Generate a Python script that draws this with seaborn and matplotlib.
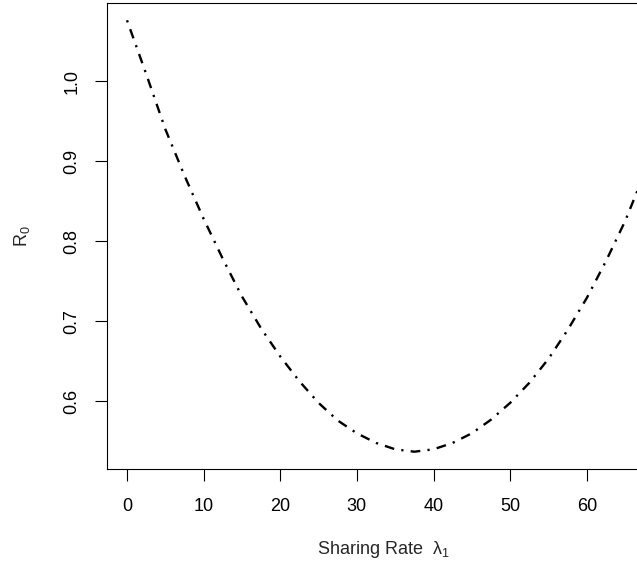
import matplotlib
matplotlib.use("Agg")
import matplotlib.pyplot as plt
import seaborn as sns
import pandas as pd

# Basic reproduction number as a function of the sharing rate
sharing_rate = [0, 2.5, 5, 7.5, 10, 12.5, 15, 17.5, 20, 22.5, 25, 27.5, 30, 32.5,
                35, 37.5, 40, 42.5, 45, 47.5, 50, 52.5, 55, 57.5, 60, 62.5, 65, 67.5]
r0_values = [1.076, 1.009, 0.940, 0.882, 0.828, 0.778, 0.731, 0.691, 0.656, 0.625,
             0.598, 0.576, 0.560, 0.548, 0.540, 0.537, 0.540, 0.548, 0.560, 0.577,
             0.598, 0.623, 0.653, 0.689, 0.729, 0.775, 0.825, 0.884]

x_ticks = [0, 10, 20, 30, 40, 50, 60]
y_ticks = [0.6, 0.7, 0.8, 0.9, 1.0]

df = pd.DataFrame({"rate": sharing_rate, "r0": r0_values})

sns.set_style("ticks")
plt.rcParams["font.family"] = ["Liberation Sans", "DejaVu Sans"]
plt.rcParams["mathtext.fontset"] = "custom"
plt.rcParams["mathtext.rm"] = "Liberation Sans"
plt.rcParams["mathtext.it"] = "Liberation Sans:italic"
plt.rcParams["lines.scale_dashes"] = False

W, H = 637, 567
fig = plt.figure(figsize=(W / 100, H / 100), dpi=100)
left_px, right_px, top_px, bottom_px = 107, 645, 3, 469
ax = fig.add_axes([left_px / W, 1 - bottom_px / H,
                   (right_px - left_px) / W, (bottom_px - top_px) / H])

sns.lineplot(data=df, x="rate", y="r0", ax=ax, color="black", linewidth=1.7,
             estimator=None, sort=False)
line = ax.lines[0]
line.set_dashes([1.6, 5.2, 7.0, 5.2])
line.set_dash_capstyle("butt")

ax.set_xlim(-2.61, 67.6)
ax.set_ylim(0.5154, 1.0976)
ax.set_xticks(x_ticks)
ax.set_yticks(y_ticks)
ax.set_xticklabels([str(v) for v in x_ticks])
ax.set_yticklabels([f"{v:.1f}" for v in y_ticks], rotation=90, va="center")

for side in ["left", "top", "bottom", "right"]:
    ax.spines[side].set_linewidth(0.8)
    ax.spines[side].set_color("black")

ax.tick_params(axis="both", direction="out", length=8.6, width=0.8,
               labelsize=13, color="black", labelcolor="black")
ax.tick_params(axis="x", pad=12.5)
ax.tick_params(axis="y", pad=10.5)

ax.set_xlabel("Sharing Rate  \u03bb$_1$", fontsize=13)
ax.set_ylabel(r"R$_0$", fontsize=13)
ax.xaxis.set_label_coords((383 - left_px) / (right_px - left_px),
                          -(549 - bottom_px) / (bottom_px - top_px))
ax.xaxis.label.set_va("center")
ax.yaxis.set_label_coords(-(left_px - 22) / (right_px - left_px), 0.5)
ax.yaxis.label.set_va("center")

fig.savefig("out.png", dpi=100)
